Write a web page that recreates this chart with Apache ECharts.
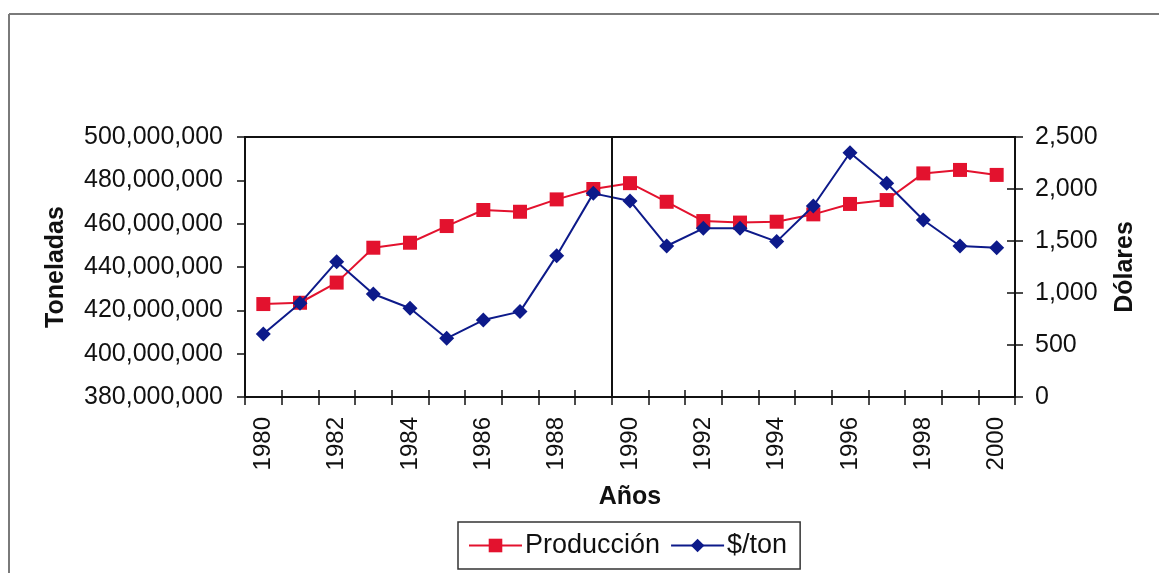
<!DOCTYPE html>
<html>
<head>
<meta charset="utf-8">
<script src="https://cdn.jsdelivr.net/npm/echarts@6/dist/echarts.min.js"></script>
<style>
  html, body { margin: 0; padding: 0; background: #ffffff; }
  #chart { width: 1159px; height: 573px; }
</style>
</head>
<body>
<div id="chart"></div>
<script>
// Años de la serie
const years = ['1980','1981','1982','1983','1984','1985','1986','1987','1988','1989','1990',
               '1991','1992','1993','1994','1995','1996','1997','1998','1999','2000'];

// Producción (toneladas)
const produccion = [
  422900000, 423500000, 432800000, 448900000, 451200000, 458900000, 466300000,
  465500000, 471200000, 476000000, 478700000, 470100000, 461200000, 460500000,
  460900000, 464300000, 469100000, 470900000, 483200000, 484800000, 482500000
];

// Precio ($/ton)
const precio = [
  606, 901, 1301, 990, 853, 564, 740, 821, 1359, 1958, 1885,
  1452, 1622, 1622, 1494, 1837, 2349, 2055, 1702, 1452, 1436
];

// Límites de los ejes
const leftAxisRange = [380000000, 500000000, 20000000];
const rightAxisRange = [0, 2500, 500];

// Separación vertical antes de 1990
const dividerBoundary = years.indexOf('1990');

const RED = '#E3122E';
const BLUE = '#0D1A8A';
const FONT = '"Liberation Sans", Arial, sans-serif';

const fmt = v => v.toLocaleString('en-US');

const chart = echarts.init(document.getElementById('chart'), null, { renderer: 'canvas' });

const catAxisBase = {
  type: 'category',
  data: years,
  boundaryGap: true,
  position: 'bottom',
  gridIndex: 0
};

chart.setOption({
  animation: false,
  backgroundColor: '#ffffff',
  textStyle: { fontFamily: FONT, color: '#111' },
  graphic: [
    { type: 'line', shape: { x1: 9, y1: 14, x2: 1159, y2: 14 }, style: { stroke: '#7a7a7a', lineWidth: 2 } },
    { type: 'line', shape: { x1: 9, y1: 14, x2: 9, y2: 573 }, style: { stroke: '#7a7a7a', lineWidth: 2 } }
  ],
  grid: {
    left: 245, right: 144, top: 137, bottom: 176,
    show: true, borderColor: '#111', borderWidth: 2, backgroundColor: 'transparent'
  },
  legend: {
    left: 458, top: 522,
    padding: [10, 13, 10, 10],
    itemGap: 10,
    itemWidth: 53, itemHeight: 17,
    borderColor: '#333', borderWidth: 1.5,
    textStyle: { fontFamily: FONT, fontSize: 27, color: '#111', padding: [0, 0, 0, -2] },
    data: ['Producción', '$/ton']
  },
  xAxis: [
    Object.assign({}, catAxisBase, {
      name: 'Años',
      nameLocation: 'middle',
      nameGap: 88,
      nameTextStyle: { fontFamily: FONT, fontSize: 25, fontWeight: 'bold', color: '#111' },
      axisLine: { show: true, lineStyle: { color: '#111', width: 2 } },
      axisTick: { show: true, alignWithLabel: false, interval: 0, length: 8, lineStyle: { color: '#111', width: 1.5 } },
      axisLabel: {
        interval: 1, rotate: 90, margin: 20,
        fontFamily: FONT, fontSize: 24, color: '#111'
      },
      splitLine: { show: false }
    }),
    Object.assign({}, catAxisBase, {
      axisLine: { show: false },
      axisTick: { show: true, inside: true, interval: 0, length: 7, lineStyle: { color: '#111', width: 1.5 } },
      axisLabel: { show: false },
      splitLine: { show: false }
    }),
    {
      type: 'value', min: 0, max: years.length, show: false, gridIndex: 0
    }
  ],
  yAxis: [
    {
      type: 'value',
      position: 'left',
      min: leftAxisRange[0], max: leftAxisRange[1], interval: leftAxisRange[2],
      name: 'Toneladas',
      nameLocation: 'middle',
      nameGap: 176,
      nameTextStyle: { fontFamily: FONT, fontSize: 25, fontWeight: 'bold', color: '#111' },
      axisLine: { show: true, lineStyle: { color: '#111', width: 2 } },
      axisTick: { show: true, length: 8, lineStyle: { color: '#111', width: 1.5 } },
      axisLabel: { margin: 22, fontFamily: FONT, fontSize: 25, color: '#111', formatter: fmt },
      splitLine: { show: false }
    },
    {
      type: 'value',
      position: 'right',
      min: rightAxisRange[0], max: rightAxisRange[1], interval: rightAxisRange[2],
      name: 'Dólares',
      nameLocation: 'middle',
      nameGap: 98,
      nameTextStyle: { fontFamily: FONT, fontSize: 25, fontWeight: 'bold', color: '#111' },
      axisLine: { show: true, lineStyle: { color: '#111', width: 2 } },
      axisTick: { show: true, length: 8, lineStyle: { color: '#111', width: 1.5 } },
      axisLabel: { margin: 20, fontFamily: FONT, fontSize: 25, color: '#111', formatter: fmt },
      splitLine: { show: false }
    },
    {
      type: 'value',
      position: 'right',
      min: rightAxisRange[0], max: rightAxisRange[1], interval: rightAxisRange[2],
      axisLine: { show: false },
      axisTick: { show: true, inside: true, length: 8, lineStyle: { color: '#111', width: 1.5 } },
      axisLabel: { show: false },
      splitLine: { show: false }
    }
  ],
  series: [
    {
      name: 'divisor',
      type: 'line',
      xAxisIndex: 2, yAxisIndex: 0,
      data: [],
      silent: true,
      markLine: {
        silent: true,
        symbol: 'none',
        label: { show: false },
        lineStyle: { color: '#111', width: 2, type: 'solid' },
        data: [{ xAxis: dividerBoundary }]
      }
    },
    {
      name: 'Producción',
      type: 'line',
      xAxisIndex: 0, yAxisIndex: 0,
      data: produccion,
      symbol: 'rect',
      symbolSize: 14,
      itemStyle: { color: RED },
      lineStyle: { color: RED, width: 2 },
      z: 3
    },
    {
      name: '$/ton',
      type: 'line',
      xAxisIndex: 0, yAxisIndex: 1,
      data: precio,
      symbol: 'diamond',
      symbolSize: 15,
      itemStyle: { color: BLUE },
      lineStyle: { color: BLUE, width: 2 },
      z: 4
    }
  ]
});
</script>
</body>
</html>
